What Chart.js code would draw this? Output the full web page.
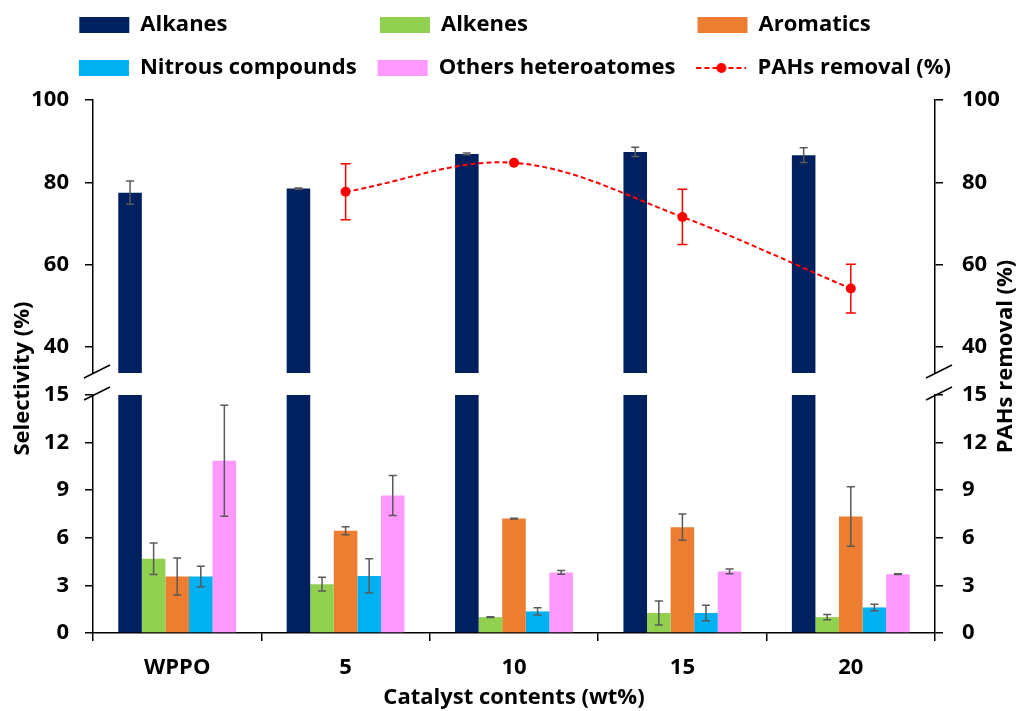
<!DOCTYPE html>
<html>
<head>
<meta charset="utf-8">
<title>Selectivity and PAHs removal</title>
<script src="https://cdn.jsdelivr.net/npm/chart.js@4.4.1/dist/chart.umd.min.js"></script>
<style>
  html, body { margin: 0; padding: 0; background: #fff; }
  #wrap { width: 1022px; height: 711px; }
</style>
</head>
<body>
<div id="wrap"><canvas id="myChart"></canvas></div>
<script>
// categories and series
const categories = ['WPPO', '5', '10', '15', '20'];

const alkanes      = [77.5, 78.5, 86.9, 87.4, 86.6];
const alkanesErr   = [2.8, 0.15, 0.2, 1.1, 1.8];
const alkenes      = [4.68, 3.08, 1.0, 1.26, 1.0];
const alkenesErr   = [1.0, 0.44, 0.03, 0.76, 0.16];
const aromatics    = [3.56, 6.44, 7.21, 6.67, 7.34];
const aromaticsErr = [1.17, 0.25, 0.03, 0.83, 1.88];
const nitrous      = [3.56, 3.6, 1.36, 1.26, 1.61];
const nitrousErr   = [0.65, 1.08, 0.23, 0.49, 0.2];
const others       = [10.86, 8.66, 3.82, 3.88, 3.71];
const othersErr    = [3.5, 1.26, 0.12, 0.15, 0.03];
const pahsRemoval  = [null, 77.7, 84.75, 71.6, 54.2];
const pahsErr      = [null, 6.8, 0, 6.7, 5.9];

// broken axis: upper and lower panels
const upperMin = 33.7, upperMax = 100;
const lowerMin = 0, lowerMax = 15;
const upperTicks = [40, 60, 80, 100];
const lowerTicks = [0, 3, 6, 9, 12, 15];

Chart.defaults.font.family = "'Open Sans', sans-serif";
Chart.defaults.font.weight = 'bold';
Chart.defaults.font.size = 22;
Chart.defaults.color = '#000';

const tickFont = {size: 22, weight: 'bold'};

// legend swatch for the dashed line + marker
const lineSwatch = document.createElement('canvas');
lineSwatch.width = 50; lineSwatch.height = 16;
(function () {
  const c = lineSwatch.getContext('2d');
  c.strokeStyle = '#FF0000'; c.lineWidth = 2; c.setLineDash([5, 3]);
  c.beginPath(); c.moveTo(0, 8); c.lineTo(50, 8); c.stroke();
  c.setLineDash([]); c.fillStyle = '#FF0000';
  c.beginPath(); c.arc(25, 8, 5, 0, Math.PI * 2); c.fill();
})();

function bar(label, data, color, stack, yAxisID, errors) {
  return {
    type: 'bar', label, data, backgroundColor: color, stack, yAxisID,
    errorBars: errors, order: 1, barPercentage: 1, categoryPercentage: 0.7
  };
}

function valueAxis(position, weight, stackWeight, min, max, tickValues) {
  const left = position === 'left';
  return {
    type: 'linear', position, stack: position, stackWeight, weight, min, max,
    afterBuildTicks: s => { s.ticks = tickValues.map(v => ({value: v})); },
    afterFit: s => { s.width = left ? 62 : 64; },
    grid: {drawOnChartArea: false, tickLength: 8, color: '#000', lineWidth: 1.5},
    border: {color: '#000', width: 1.5},
    ticks: {padding: left ? 16 : 19, font: tickFont, color: '#000'}
  };
}

function gapAxis(position, weight, stackWeight) {
  return {
    type: 'linear', position, stack: position, stackWeight, weight, min: 0, max: 1,
    afterFit: s => { s.width = position === 'left' ? 62 : 64; },
    grid: {display: false}, border: {display: false}, ticks: {display: false}
  };
}

// grey / red error bars
const errorBarPlugin = {
  id: 'errorBars',
  afterDatasetsDraw(chart) {
    const ctx = chart.ctx;
    chart.data.datasets.forEach((ds, i) => {
      if (!ds.errorBars) return;
      const meta = chart.getDatasetMeta(i);
      if (meta.hidden) return;
      const yScale = chart.scales[meta.yAxisID];
      const isLine = ds.type === 'line';
      ctx.save();
      ctx.strokeStyle = isLine ? '#FF0000' : '#595959';
      ctx.lineWidth = 1.5;
      const cap = isLine ? 5 : 4;
      meta.data.forEach((el, j) => {
        const v = ds.data[j], e = ds.errorBars[j];
        if (v == null || !e) return;
        const x = el.x;
        const yHi = yScale.getPixelForValue(v + e);
        const yLo = yScale.getPixelForValue(v - e);
        ctx.beginPath();
        ctx.moveTo(x, yHi); ctx.lineTo(x, yLo);
        ctx.moveTo(x - cap, yHi); ctx.lineTo(x + cap, yHi);
        ctx.moveTo(x - cap, yLo); ctx.lineTo(x + cap, yLo);
        ctx.stroke();
      });
      ctx.restore();
    });
  }
};

// axis break marks and rotated y titles
const breakPlugin = {
  id: 'axisBreak',
  afterDraw(chart) {
    const {ctx, chartArea, scales} = chart;
    ctx.save();
    ctx.strokeStyle = '#000';
    ctx.lineWidth = 1.5;
    [[chartArea.left, scales.yTop, scales.yBot], [chartArea.right, scales.y2Top, scales.y2Bot]]
      .forEach(([x, top, bot]) => {
        [top.bottom, bot.top].forEach(y => {
          ctx.beginPath();
          ctx.moveTo(x + 4 - 13, y - 1.5 + 6.5);
          ctx.lineTo(x + 4 + 13, y - 1.5 - 6.5);
          ctx.stroke();
        });
      });
    const mid = (chartArea.top + chartArea.bottom) / 2;
    ctx.fillStyle = '#000';
    ctx.font = "bold 22px 'Open Sans', sans-serif";
    ctx.textAlign = 'center';
    ctx.textBaseline = 'middle';
    ctx.translate(chartArea.left - 70, mid + 12);
    ctx.rotate(-Math.PI / 2);
    ctx.fillText('Selectivity (%)', 0, 0);
    ctx.setTransform(1, 0, 0, 1, 0, 0);
    ctx.translate(chartArea.right + 71, mid - 10);
    ctx.rotate(-Math.PI / 2);
    ctx.fillText('PAHs removal (%)', 0, 0);
    ctx.restore();
  }
};

// pad legend texts so the two legend rows line up in columns
function padLegendTexts(chart, items) {
  const ctx = chart.ctx;
  ctx.save();
  ctx.font = "bold 22px 'Open Sans', sans-serif";
  const widths = items.map(it => ctx.measureText(it.text).width);
  const colMax = [0, 0, 0];
  items.forEach((it, k) => { colMax[k % 3] = Math.max(colMax[k % 3], widths[k]); });
  items.forEach((it, k) => {
    let t = it.text;
    while (ctx.measureText(t + ' ').width <= colMax[k % 3] + 2) t += ' ';
    it.text = t;
  });
  ctx.restore();
}

new Chart('myChart', {
  type: 'bar',
  data: {
    labels: categories,
    datasets: [
      bar('Alkanes', alkanes, '#002060', 'alk', 'yTop', alkanesErr),
      bar('Alkanes', alkanes.map(v => Math.min(v, lowerMax)), '#002060', 'alk', 'yBot', null),
      bar('Alkenes', alkenes, '#92D050', 'ene', 'yBot', alkenesErr),
      bar('Aromatics', aromatics, '#ED7D31', 'aro', 'yBot', aromaticsErr),
      bar('Nitrous compounds', nitrous, '#00B0F0', 'nit', 'yBot', nitrousErr),
      bar('Others heteroatomes', others, '#FF99FF', 'oth', 'yBot', othersErr),
      {
        type: 'line', label: 'PAHs removal (%)', data: pahsRemoval, yAxisID: 'y2Top',
        borderColor: '#FF0000', backgroundColor: '#FF0000', borderWidth: 2, borderDash: [5, 3],
        pointRadius: 5, pointBackgroundColor: '#FF0000', pointBorderWidth: 0,
        tension: 0.35, errorBars: pahsErr, order: 0
      }
    ]
  },
  options: {
    responsive: true,
    maintainAspectRatio: false,
    animation: false,
    layout: {padding: {left: 31, right: 23, top: -7, bottom: 0}},
    plugins: {
      tooltip: {enabled: false},
      title: {display: true, text: '', position: 'top', weight: 500, padding: 0, font: {size: 11, lineHeight: 1}},
      legend: {
        position: 'top',
        labels: {
          usePointStyle: true,
          pointStyleWidth: 50,
          boxHeight: 16,
          padding: 21,
          color: '#000',
          font: {size: 22, weight: 'bold'},
          filter: item => item.datasetIndex !== 1,
          sort: (a, b) => a.datasetIndex - b.datasetIndex,
          generateLabels(chart) {
            const items = Chart.defaults.plugins.legend.labels.generateLabels(chart)
              .filter(it => it.datasetIndex !== 1)
              .sort((a, b) => a.datasetIndex - b.datasetIndex);
            items.forEach(it => {
              const ds = chart.data.datasets[it.datasetIndex];
              it.pointStyle = ds.type === 'line' ? lineSwatch : 'rect';
              it.lineWidth = 0;
              it.lineDash = [];
            });
            padLegendTexts(chart, items);
            return items;
          }
        }
      }
    },
    scales: {
      x: {
        type: 'category',
        offset: true,
        afterFit: s => { s.height = 78; },
        grid: {offset: true, drawOnChartArea: false, tickLength: 8, color: '#000', lineWidth: 1.5},
        border: {color: '#000', width: 1.5},
        ticks: {padding: 14, font: tickFont, color: '#000'},
        title: {display: true, text: 'Catalyst contents (wt%)', padding: 0, font: {size: 22, weight: 'bold'}, color: '#000'}
      },
      yTop: valueAxis('left', 3, 273, upperMin, upperMax, upperTicks),
      yGap: gapAxis('left', 2, 22),
      yBot: valueAxis('left', 1, 238, lowerMin, lowerMax, lowerTicks),
      y2Top: valueAxis('right', 1, 273, upperMin, upperMax, upperTicks),
      y2Gap: gapAxis('right', 2, 22),
      y2Bot: valueAxis('right', 3, 238, lowerMin, lowerMax, lowerTicks)
    }
  },
  plugins: [errorBarPlugin, breakPlugin]
});
</script>
</body>
</html>
